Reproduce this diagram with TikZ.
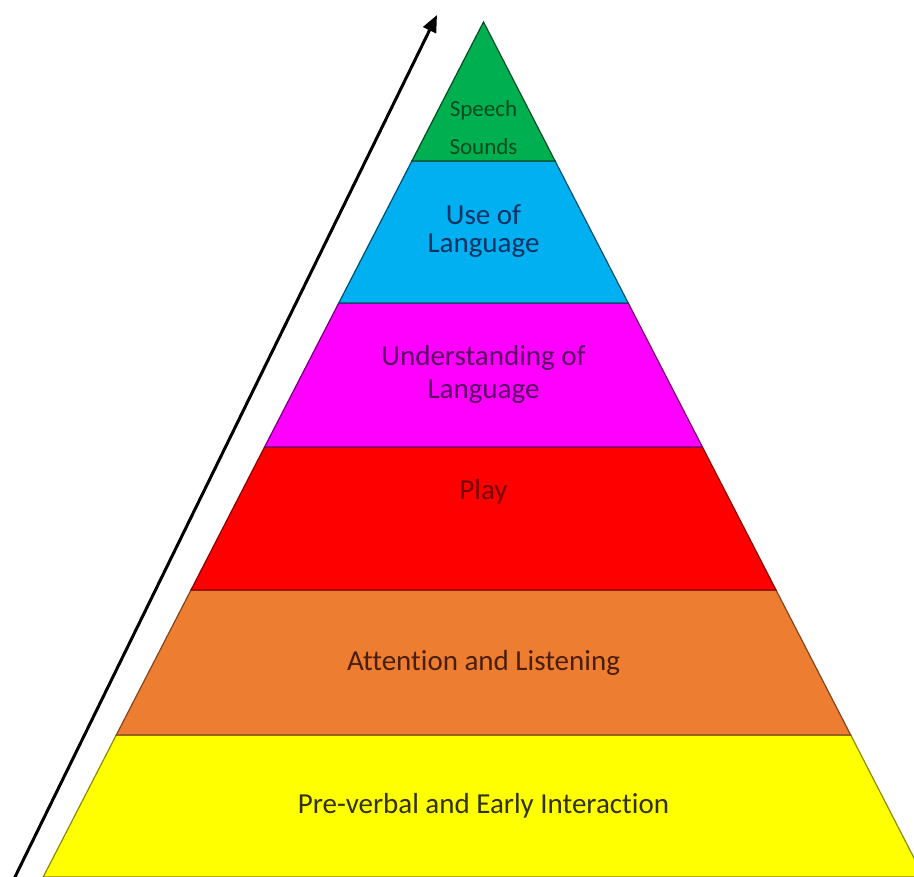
\documentclass[tikz,border=0pt]{standalone}
\usepackage{fontspec}
\setmainfont[Ligatures={NoCommon}]{Carlito}
\usetikzlibrary{arrows.meta}
\definecolor{cgreen}{RGB}{0,176,80}
\definecolor{cblue}{RGB}{0,176,240}
\definecolor{cmag}{RGB}{255,0,255}
\definecolor{cred}{RGB}{255,0,0}
\definecolor{corange}{RGB}{237,125,49}
\definecolor{cyellow}{RGB}{255,255,0}
\definecolor{tgreen}{RGB}{0,75,30}
\definecolor{tblue}{RGB}{10,50,100}
\definecolor{tmag}{RGB}{90,0,100}
\definecolor{tred}{RGB}{120,0,0}
\definecolor{torange}{RGB}{75,30,10}
\definecolor{tyellow}{RGB}{50,50,10}
\tikzset{
  layer/.style={line width=1.2pt, line join=miter},
  lbl/.style={font=\fontsize{29}{33}\selectfont, inner sep=0pt, anchor=center},
  small/.style={font=\fontsize{23}{26}\selectfont, inner sep=0pt, anchor=center},
}
\begin{document}
\begin{tikzpicture}[x=1pt,y=1pt]
\useasboundingbox (0,0) rectangle (914,877);
\clip (0,0) rectangle (914,877);
% apex (483.5,855); half-width = 0.515 * depth
\coordinate (apex) at (483.5,855);
% layers from bottom
\filldraw[layer, fill=cyellow, draw=cyellow!55!black] (43.2,0) -- (923.8,0) -- (850.7,142) -- (116.3,142) -- cycle;
\filldraw[layer, fill=corange, draw=corange!55!black] (116.3,142) -- (850.7,142) -- (776.0,287) -- (191.0,287) -- cycle;
\filldraw[layer, fill=cred, draw=cred!55!black] (191.0,287) -- (776.0,287) -- (702.4,430) -- (264.6,430) -- cycle;
\filldraw[layer, fill=cmag, draw=cmag!45!black] (264.6,430) -- (702.4,430) -- (628.2,574) -- (338.8,574) -- cycle;
\filldraw[layer, fill=cblue, draw=cblue!45!black] (338.8,574) -- (628.2,574) -- (555.1,716) -- (411.9,716) -- cycle;
\filldraw[layer, fill=cgreen, draw=cgreen!45!black] (411.9,716) -- (555.1,716) -- (apex) -- cycle;
% labels
\node[small, text=tgreen] (speech) at (483.5,767) {Speech};
\node[small, text=tgreen] (sounds) at (483.5,730) {Sounds};
\node[lbl, text=tblue] (use1) at (483.5,662) {Use of};
\node[lbl, text=tblue] (use2) at (483.5,631) {Language};
\node[lbl, text=tmag] (und1) at (483.5,519) {Understanding of};
\node[lbl, text=tmag] (und2) at (483.5,485) {Language};
\node[lbl, text=tred] (play) at (483.5,385) {Play};
\node[lbl, text=torange] (att) at (483.5,214) {Attention and Listening};
\node[lbl, text=tyellow] (pre) at (483.5,71) {Pre-verbal and Early Interaction};
% arrow
\coordinate (atail) at (14,-2);
\coordinate (ahead) at (437,862);
\draw[line width=3pt, -{Triangle[length=17pt,width=14pt]}] (atail) -- (ahead);
\end{tikzpicture}
\end{document}
